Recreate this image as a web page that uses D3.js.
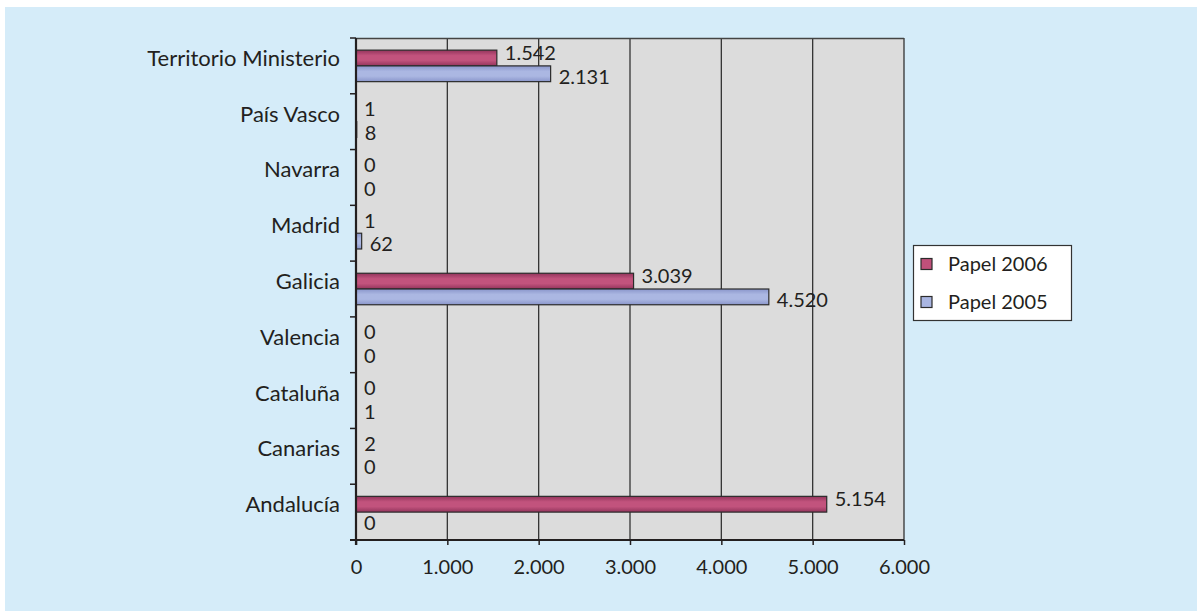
<!DOCTYPE html>
<html><head><meta charset="utf-8">
<script src="https://cdn.jsdelivr.net/npm/d3@7"></script>
<style>body{margin:0;background:#fff;}svg{display:block;}text{font-family:Lato,"Open Sans",sans-serif;fill:#231f20;}</style>
</head><body><svg id="c" width="1197" height="611"></svg>
<script>
const categories = ["Territorio Ministerio","País Vasco","Navarra","Madrid","Galicia","Valencia","Cataluña","Canarias","Andalucía"];
const papel2006 = [1542, 1, 0, 1, 3039, 0, 0, 2, 5154];
const papel2005 = [2131, 8, 0, 62, 4520, 0, 1, 0, 0];
const seriesNames = ["Papel 2006","Papel 2005"];
const xTicks = [0,1000,2000,3000,4000,5000,6000];

const loc = d3.formatLocale({decimal:",", thousands:".", grouping:[3], currency:["","€"]});
const fmt = loc.format(",");

const svg = d3.select("#c");
svg.append("rect").attr("x",5).attr("y",7).attr("width",1192).attr("height",604).attr("fill","#d5ecf9");

const defs = svg.append("defs");
function grad(id, edge, mid){
  const g = defs.append("linearGradient").attr("id",id).attr("x1",0).attr("y1",0).attr("x2",0).attr("y2",1);
  g.append("stop").attr("offset","0%").attr("stop-color",edge);
  g.append("stop").attr("offset","35%").attr("stop-color",mid);
  g.append("stop").attr("offset","65%").attr("stop-color",mid);
  g.append("stop").attr("offset","100%").attr("stop-color",edge);
}
grad("g2006","#93345c","#c2537d");
grad("g2005","#8a96cb","#abb7e2");
const fills = {"Papel 2006":"url(#g2006)","Papel 2005":"url(#g2005)"};
const swatch = {"Papel 2006":"#c0507a","Papel 2005":"#a9b5e1"};

const x = d3.scaleLinear().domain([0,6000]).range([356,904]);
const y = d3.scaleBand().domain(categories).range([38,540]);
const sub = d3.scaleBand().domain(seriesNames).range([0,y.bandwidth()]).paddingOuter(0.77);

// plot area
svg.append("rect").attr("x",x(0)).attr("y",38).attr("width",x(6000)-x(0)).attr("height",502).attr("fill","#dcdcdc");
// grid
svg.append("g").selectAll("line").data(xTicks.slice(1)).join("line")
  .attr("x1",d=>x(d)).attr("x2",d=>x(d)).attr("y1",38).attr("y2",540)
  .attr("stroke","#333").attr("stroke-width",1.3);
svg.append("line").attr("x1",x(0)).attr("x2",x(6000)).attr("y1",38.5).attr("y2",38.5).attr("stroke","#444").attr("stroke-width",1.3);

// bars
const rows = categories.map((c,i)=>({cat:c, vals:[{s:"Papel 2006",v:papel2006[i]},{s:"Papel 2005",v:papel2005[i]}]}));
const gRow = svg.append("g").selectAll("g").data(rows).join("g").attr("transform",d=>`translate(0,${y(d.cat)})`);
gRow.selectAll("rect").data(d=>d.vals.filter(e=>e.v>0)).join("rect")
  .attr("x",x(0)).attr("y",d=>sub(d.s)).attr("width",d=>x(d.v)-x(0)).attr("height",sub.bandwidth())
  .attr("fill",d=>fills[d.s]).attr("stroke","#2b2b2b").attr("stroke-width",1.2);
gRow.selectAll("text").data(d=>d.vals).join("text")
  .attr("x",d=>x(d.v)+8).attr("y",d=>sub(d.s)+sub.bandwidth()/2+(d.s==="Papel 2006"?-5:3))
  .attr("dy","0.36em").attr("font-size",20).text(d=>fmt(d.v));

// axes
const xAxis = d3.axisBottom(x).tickValues(xTicks).tickFormat(fmt).tickSize(5).tickPadding(15);
const ga = svg.append("g").attr("transform","translate(0,540)").call(xAxis);
ga.select(".domain").attr("stroke","#231f20").attr("stroke-width",2.2).attr("d",`M350,0H${x(6000)}`);
ga.selectAll(".tick line").attr("stroke","#231f20").attr("stroke-width",1.5);
ga.selectAll("text").attr("font-size",20).attr("fill","#231f20").style("font-family","Lato");

svg.append("line").attr("x1",x(0)).attr("x2",x(0)).attr("y1",38).attr("y2",545).attr("stroke","#231f20").attr("stroke-width",2.2);
svg.append("g").selectAll("line").data(categories).join("line")
  .attr("x1",350).attr("x2",x(0)).attr("y1",d=>y(d)).attr("y2",d=>y(d)).attr("stroke","#231f20").attr("stroke-width",1.5);
svg.append("g").selectAll("text").data(categories).join("text")
  .attr("x",340).attr("y",d=>y(d)+y.bandwidth()/2).attr("text-anchor","end").attr("font-size",22).text(d=>d);

// legend
const lg = svg.append("g");
lg.append("rect").attr("x",913.5).attr("y",245.5).attr("width",158).attr("height",75).attr("fill","#fff").attr("stroke","#333").attr("stroke-width",1.2);
const li = lg.selectAll("g").data(seriesNames).join("g").attr("transform",(d,i)=>`translate(0,${264+i*38})`);
li.append("rect").attr("x",921).attr("y",-5.5).attr("width",11).attr("height",11).attr("fill",d=>swatch[d]).attr("stroke","#2b2b2b").attr("stroke-width",1.2);
li.append("text").attr("x",948).attr("y",0).attr("dy","0.36em").attr("font-size",20).text(d=>d);
</script></body></html>
